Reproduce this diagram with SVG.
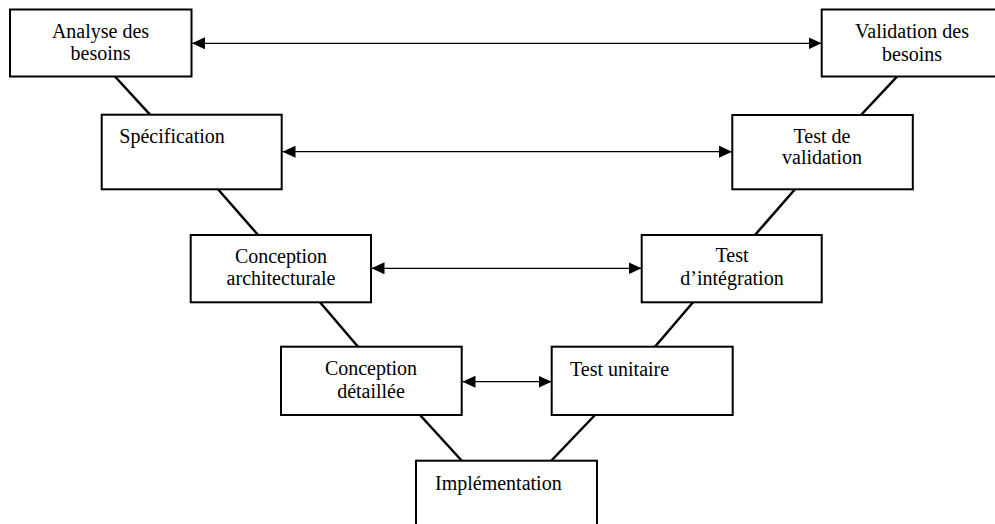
<svg xmlns="http://www.w3.org/2000/svg" width="995" height="524" viewBox="0 0 995 524">
<style>
.box{fill:#fff;stroke:#000;stroke-width:2}
.t{font-family:"Liberation Serif","Times New Roman",serif;font-size:20px;fill:#000}
.c{text-anchor:middle}
.diag{stroke:#000;stroke-width:2.5;fill:none}
.arr{stroke:#000;stroke-width:1.2;fill:none;marker-start:url(#ah);marker-end:url(#ah)}
</style>
<defs>
<marker id="ah" markerUnits="userSpaceOnUse" markerWidth="14" markerHeight="12" refX="13" refY="6" orient="auto-start-reverse">
<path d="M0,0 L13,6 L0,12 z" fill="#000"/>
</marker>
</defs>
<rect width="995" height="524" fill="#fff"/>
<g id="connectors">
<line class="diag" x1="115" y1="76.5" x2="150" y2="114.7"/>
<line class="diag" x1="218" y1="189.3" x2="258" y2="235"/>
<line class="diag" x1="320" y1="302.3" x2="358" y2="346.7"/>
<line class="diag" x1="420" y1="415" x2="462" y2="461"/>
<line class="diag" x1="595" y1="415" x2="551" y2="461"/>
<line class="diag" x1="655" y1="346.7" x2="693" y2="302.3"/>
<line class="diag" x1="755" y1="235" x2="795" y2="189.3"/>
<line class="diag" x1="861" y1="115" x2="897" y2="76.7"/>
<line class="arr" x1="192" y1="43.3" x2="821.5" y2="43.3"/>
<line class="arr" x1="282.5" y1="151.7" x2="732" y2="151.7"/>
<line class="arr" x1="371.5" y1="268.3" x2="641.5" y2="268.3"/>
<line class="arr" x1="462.5" y1="381.7" x2="551.5" y2="381.7"/>
</g>
<g id="analyse">
<rect class="box" x="10" y="9.5" width="181.5" height="67"/>
<text class="t c" x="100.5" y="38">Analyse des</text>
<text class="t c" x="100.5" y="60">besoins</text>
</g>
<g id="validation">
<rect class="box" x="821.7" y="9.5" width="181" height="67"/>
<text class="t c" x="912" y="38">Validation des</text>
<text class="t c" x="912" y="61">besoins</text>
</g>
<g id="specification">
<rect class="box" x="101.7" y="114.7" width="180" height="74.6"/>
<text class="t" x="119.3" y="143.3">Spécification</text>
</g>
<g id="test-validation">
<rect class="box" x="732.3" y="115" width="180.5" height="74.3"/>
<text class="t c" x="822" y="142.7">Test de</text>
<text class="t c" x="822" y="164">validation</text>
</g>
<g id="conception-architecturale">
<rect class="box" x="190.7" y="235" width="180.3" height="67.3"/>
<text class="t c" x="281" y="262.7">Conception</text>
<text class="t c" x="281" y="285">architecturale</text>
</g>
<g id="test-integration">
<rect class="box" x="641.7" y="235" width="180" height="67.3"/>
<text class="t c" x="732" y="262.3">Test</text>
<text class="t c" x="732" y="285">d’intégration</text>
</g>
<g id="conception-detaillee">
<rect class="box" x="281" y="346.7" width="180.7" height="68.3"/>
<text class="t c" x="371" y="375">Conception</text>
<text class="t c" x="371" y="398">détaillée</text>
</g>
<g id="test-unitaire">
<rect class="box" x="551.7" y="346.7" width="181" height="68.3"/>
<text class="t" x="570" y="376">Test unitaire</text>
</g>
<g id="implementation">
<rect class="box" x="416" y="460.7" width="181" height="80"/>
<text class="t" x="435" y="490">Implémentation</text>
</g>
</svg>
